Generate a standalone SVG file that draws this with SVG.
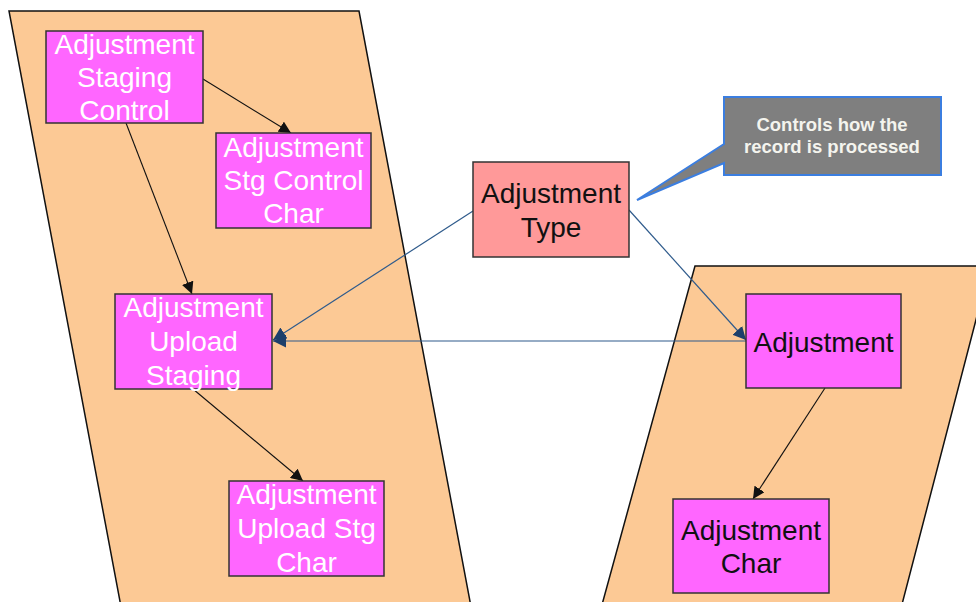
<svg xmlns="http://www.w3.org/2000/svg" width="976" height="602" viewBox="0 0 976 602">
<defs>
<style>
.zone{fill:#fcc995;stroke:#111;stroke-width:1.5}
.ent{fill:#ff66ff;stroke:#333;stroke-width:1.5}
.typ{fill:#ff9999;stroke:#333;stroke-width:1.5}
.t{font-family:"Liberation Sans",Arial,sans-serif;font-size:28px;text-anchor:middle}
.w{fill:#ffffff}
.k{fill:#111111}
.cb{stroke:#111;stroke-width:1.1;fill:none}
.cu{stroke:#2f5b8c;stroke-width:1.2;fill:none}
.note{fill:#7f7f7f;stroke:#3b7ee0;stroke-width:2}
.nt{font-family:"Liberation Sans",Arial,sans-serif;font-size:18.5px;font-weight:bold;fill:#f4f4ee;text-anchor:middle}
</style>
<marker id="ab" viewBox="0 0 10 10" refX="10" refY="5" markerWidth="12" markerHeight="12" markerUnits="userSpaceOnUse" orient="auto">
<path d="M0,0 L10,5 L0,10 Z" fill="#111"/>
</marker>
<marker id="au" viewBox="0 0 10 10" refX="10" refY="5" markerWidth="13" markerHeight="13" markerUnits="userSpaceOnUse" orient="auto">
<path d="M0,0 L10,5 L0,10 Z" fill="#1d3f6b"/>
</marker>
</defs>
<rect width="976" height="602" fill="#ffffff"/>
<g id="zone-left"><polygon class="zone" points="9,11 359,11 472,612 122,612"/></g>
<g id="zone-right"><polygon class="zone" points="695,266 990,266 900,612 600,612"/></g>
<g id="connectors">
<line class="cb" x1="203" y1="79" x2="291" y2="133" marker-end="url(#ab)"/>
<line class="cb" x1="126" y1="123" x2="192" y2="294" marker-end="url(#ab)"/>
<line class="cb" x1="193" y1="389" x2="303" y2="481" marker-end="url(#ab)"/>
<line class="cb" x1="825" y1="388" x2="753" y2="499" marker-end="url(#ab)"/>
<line class="cu" x1="473" y1="211" x2="273" y2="340" marker-end="url(#au)"/>
<line class="cu" x1="746" y1="341" x2="273" y2="341" marker-end="url(#au)"/>
<line class="cu" x1="629" y1="210" x2="746" y2="340" marker-end="url(#au)"/>
</g>
<g id="n-staging-control"><rect class="ent" x="46" y="31" width="157" height="92"/>
<text class="t w"><tspan x="124.5" y="54">Adjustment</tspan><tspan x="124.5" y="87">Staging</tspan><tspan x="124.5" y="120">Control</tspan></text></g>
<g id="n-stg-control-char"><rect class="ent" x="216" y="133" width="155" height="95"/>
<text class="t w"><tspan x="293.5" y="157">Adjustment</tspan><tspan x="293.5" y="190">Stg Control</tspan><tspan x="293.5" y="223">Char</tspan></text></g>
<g id="n-upload-staging"><rect class="ent" x="115" y="294" width="157" height="95"/>
<text class="t w"><tspan x="193.5" y="317">Adjustment</tspan><tspan x="193.5" y="351">Upload</tspan><tspan x="193.5" y="385">Staging</tspan></text></g>
<g id="n-upload-stg-char"><rect class="ent" x="229" y="481" width="155" height="95"/>
<text class="t w"><tspan x="306.5" y="504">Adjustment</tspan><tspan x="306.5" y="538">Upload Stg</tspan><tspan x="306.5" y="572">Char</tspan></text></g>
<g id="n-adjustment-type"><rect class="typ" x="473" y="162" width="156" height="95"/>
<text class="t k"><tspan x="551" y="203">Adjustment</tspan><tspan x="551" y="237">Type</tspan></text></g>
<g id="n-adjustment"><rect class="ent" x="746" y="294" width="155" height="94"/>
<text class="t k"><tspan x="823.5" y="352">Adjustment</tspan></text></g>
<g id="n-adjustment-char"><rect class="ent" x="673" y="499" width="156" height="94"/>
<text class="t k"><tspan x="751" y="540">Adjustment</tspan><tspan x="751" y="573">Char</tspan></text></g>
<g id="note"><path class="note" d="M724,97 L941,97 L941,175 L724,175 L724,163 L637,200 L724,144 Z"/>
<text class="nt"><tspan x="832" y="131">Controls how the</tspan><tspan x="832" y="153">record is processed</tspan></text></g>
</svg>
